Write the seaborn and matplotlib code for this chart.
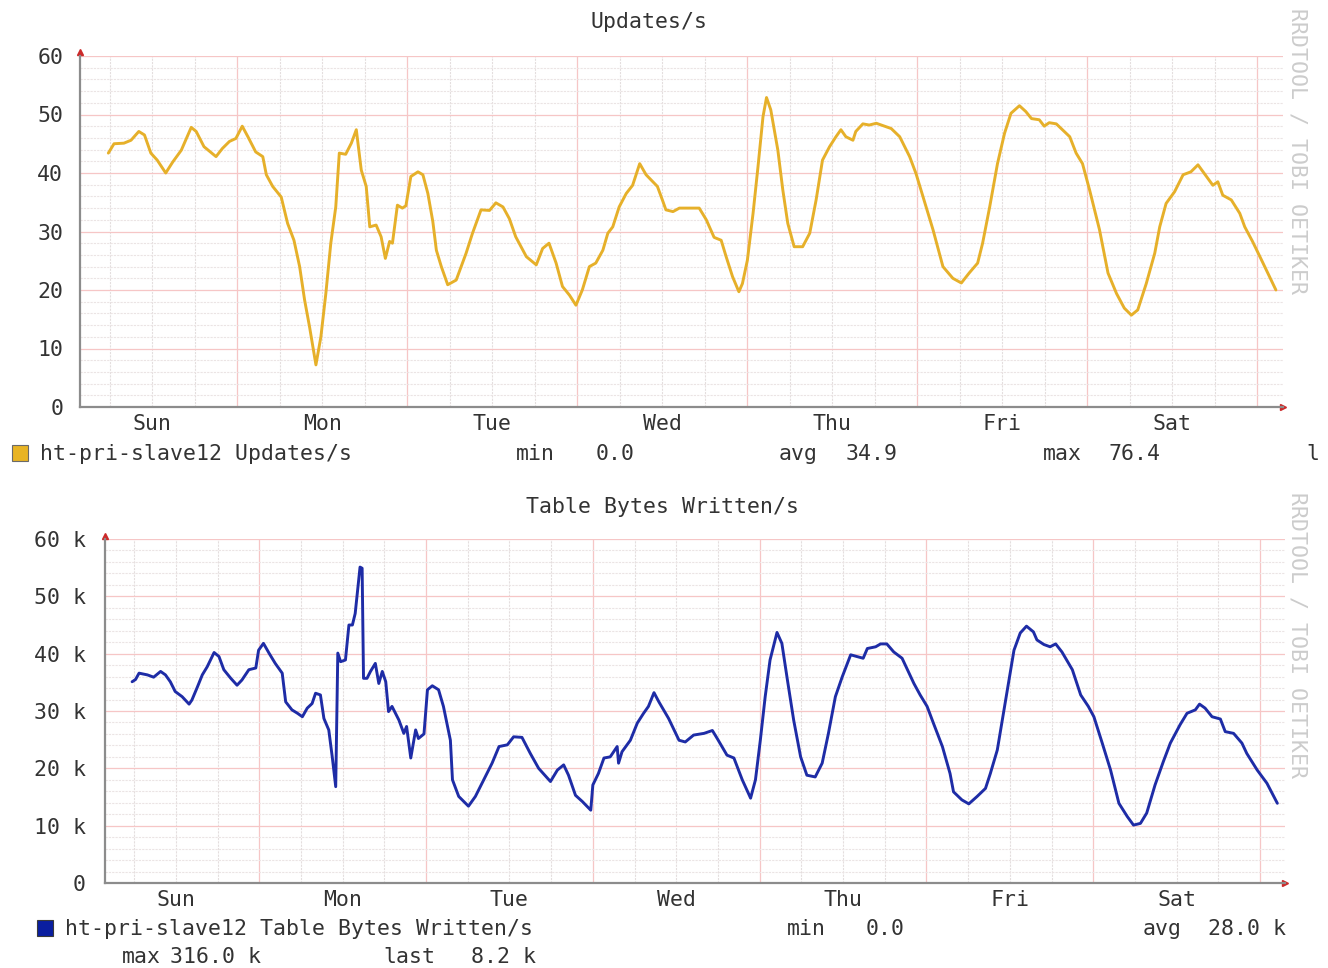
import pandas as pd
import matplotlib
matplotlib.use('Agg')
import matplotlib.pyplot as plt
import seaborn as sns
from matplotlib.patches import Rectangle

# hours since Sunday 00:00
upd_hours = [5.8, 6.6, 8.0, 9.0, 10.1, 10.9, 11.8, 12.7, 13.9, 14.9, 16.1, 17.5, 18.2, 19.3, 21.0, 21.9,
             22.9, 23.8, 24.7, 25.5, 26.6, 27.6, 28.1, 29.0, 30.2, 31.1, 32.0, 32.8, 33.5, 34.2, 35.1, 35.8,
             36.5, 37.2, 37.9, 38.4, 39.3, 40.1, 40.8, 41.5, 42.2, 42.7, 43.6, 44.3, 44.9, 45.5, 45.9, 46.6,
             47.3, 47.8, 48.5, 49.5, 50.2, 50.9, 51.6, 52.1, 52.8, 53.7, 54.9, 56.3, 57.2, 58.4, 59.6, 60.5,
             61.5, 62.4, 63.3, 64.8, 66.2, 67.1, 68.0, 69.0, 69.9, 70.9, 71.8, 72.7, 73.7, 74.6, 75.6, 76.3,
             77.0, 77.9, 78.9, 79.8, 80.8, 81.7, 83.3, 84.0, 84.5, 85.5, 86.4, 89.2, 90.2, 91.3, 92.3, 93.0,
             93.9, 94.8, 95.3, 96.0, 96.8, 97.5, 98.2, 98.7, 99.3, 100.3, 101.0, 101.7, 102.6, 103.8, 104.8,
             105.7, 106.6, 107.6, 108.5, 109.2, 109.9, 110.9, 111.3, 112.3, 113.2, 114.2, 116.3, 117.5, 118.9,
             119.8, 120.8, 122.2, 123.6, 125.0, 126.2, 127.3, 128.5, 129.2, 130.2, 131.3, 132.3, 133.2, 134.4,
             135.3, 136.1, 137.2, 137.9, 138.6, 139.6, 141.5, 142.4, 143.3, 144.3, 145.7, 146.9, 148.1, 149.2,
             150.2, 151.1, 152.3, 153.5, 154.2, 155.1, 156.3, 157.5, 158.6, 159.6, 160.5, 161.7, 162.4, 163.1,
             164.3, 165.5, 166.2, 167.3, 168.7, 170.6]
upd_vals = [43.4, 45.0, 45.1, 45.6, 47.1, 46.5, 43.4, 42.2, 40.0, 41.9, 43.9, 47.8, 47.1, 44.5, 42.8, 44.2,
            45.4, 45.9, 48.0, 46.2, 43.6, 42.8, 39.7, 37.7, 35.9, 31.4, 28.5, 24.0, 18.3, 13.7, 7.2, 12.0,
            19.4, 28.0, 34.2, 43.4, 43.2, 45.1, 47.4, 40.5, 37.7, 30.8, 31.1, 29.1, 25.4, 28.3, 28.0, 34.5,
            34.0, 34.4, 39.4, 40.2, 39.7, 36.5, 31.7, 26.8, 24.0, 20.9, 21.7, 26.3, 29.7, 33.7, 33.6, 34.9,
            34.2, 32.2, 29.1, 25.7, 24.3, 27.1, 28.0, 24.6, 20.6, 19.1, 17.4, 20.0, 24.0, 24.6, 26.8, 29.7,
            30.8, 34.2, 36.5, 37.9, 41.6, 39.7, 37.7, 35.4, 33.7, 33.4, 34.0, 34.0, 32.0, 29.0, 28.5, 25.7,
            22.3, 19.7, 21.1, 25.1, 33.1, 41.1, 49.6, 52.9, 50.8, 43.9, 37.1, 31.4, 27.4, 27.4, 29.7,
            35.4, 42.2, 44.5, 46.2, 47.4, 46.2, 45.6, 47.1, 48.4, 48.2, 48.5, 47.6, 46.2, 42.8,
            39.9, 35.9, 30.3, 24.0, 22.0, 21.2, 22.9, 24.6, 28.0, 34.2, 41.6, 46.8, 50.2, 51.5,
            50.5, 49.3, 49.1, 48.0, 48.6, 48.4, 46.2, 43.4, 41.6, 37.1, 30.3, 22.9, 19.4, 16.9,
            15.7, 16.6, 21.1, 26.3, 30.8, 34.8, 36.8, 39.7, 40.2, 41.4, 39.9, 37.9, 38.5, 36.2,
            35.4, 33.1, 30.8, 28.3, 24.8, 20.0]

tbw_hours = [5.7, 6.2, 6.7, 7.9, 8.8, 9.8, 10.5, 11.2, 11.9, 12.9, 13.9, 14.3, 15.1, 15.8, 16.5, 17.5,
             18.2, 18.9, 19.9, 20.8, 21.5, 22.5, 23.5, 23.9, 24.6, 25.4, 26.3, 27.3, 27.8, 28.7, 29.5, 30.2,
             30.9, 31.6, 32.1, 32.8, 33.3, 34.0, 34.5, 35.0, 35.3, 35.7, 36.4, 36.9, 37.4, 37.8, 38.5, 38.8,
             39.0, 39.5, 40.0, 40.7, 41.2, 41.7, 42.2, 42.6, 43.1, 44.1, 44.8, 45.2, 45.8, 46.5, 46.9, 47.7,
             48.2, 48.9, 49.8, 50.5, 51.3, 51.5, 51.8, 52.7, 54.1, 55.1, 56.3, 57.5, 58.5, 59.7, 60.6, 61.8,
             63.0, 64.2, 65.9, 66.9, 67.8, 68.5, 69.5, 70.5, 71.7, 72.0, 72.8, 73.6, 74.5, 75.5, 75.7, 76.2,
             77.4, 78.4, 79.3, 80.0, 80.8, 81.5, 82.9, 84.4, 85.3, 86.5, 88.0, 89.2, 89.9, 91.3, 92.3, 93.5,
             94.7, 95.4, 96.1, 96.8, 97.5, 98.5, 99.2, 100.0, 100.9, 101.9, 102.8, 104.0, 105.0, 105.9, 106.9,
             107.9, 109.1, 110.0, 110.9, 111.5, 112.7, 113.4, 114.3, 115.3, 116.5, 117.2, 118.2, 119.1, 120.1,
             121.0, 122.3, 123.4, 123.9, 125.1, 126.1, 127.3, 128.5, 129.2, 130.2, 131.4, 132.6, 133.5, 134.4,
             135.4, 135.9, 136.9, 137.8, 138.6, 139.5, 141.0, 142.2, 143.3, 144.1, 145.3, 146.5, 147.7, 148.9,
             149.8, 150.8, 151.7, 152.9, 154.1, 155.1, 156.5, 157.5, 158.7, 159.3, 160.1, 161.1, 162.3, 163.0,
             164.2, 165.4, 166.1, 167.6, 169.0, 170.5]
tbw_vals = [35.1, 35.5, 36.6, 36.3, 35.9, 36.9, 36.3, 35.1, 33.4, 32.5, 31.2, 31.9, 34.2, 36.3, 37.7, 40.2,
            39.5, 37.2, 35.7, 34.5, 35.4, 37.2, 37.5, 40.6, 41.8, 40.1, 38.3, 36.6, 31.6, 30.2, 29.6, 29.0,
            30.5, 31.3, 33.1, 32.8, 28.7, 26.7, 22.0, 16.8, 40.1, 38.6, 38.9, 45.0, 45.0, 47.0, 55.1, 54.9,
            35.7, 35.7, 36.9, 38.3, 34.8, 36.9, 35.1, 29.9, 30.8, 28.4, 26.1, 27.3, 21.8, 26.7, 25.2, 26.0,
            33.7, 34.4, 33.7, 30.8, 26.1, 24.9, 18.0, 15.1, 13.4, 15.1, 18.0, 20.9, 23.8, 24.1, 25.5, 25.4,
            22.6, 20.0, 17.7, 19.7, 20.6, 18.8, 15.3, 14.2, 12.7, 17.1, 19.1, 21.8, 22.0, 23.8, 20.9, 22.9,
            24.9, 27.9, 29.6, 30.8, 33.2, 31.6, 28.7, 24.9, 24.6, 25.8, 26.1, 26.6, 25.2, 22.3, 21.8, 18.0,
            14.8, 18.0, 24.9, 32.5, 38.9, 43.7, 41.8, 35.4, 28.4, 22.0, 18.8, 18.5, 20.9, 26.1, 32.5,
            36.0, 39.8, 39.5, 39.2, 40.9, 41.2, 41.7, 41.7, 40.3, 39.2, 37.4, 34.8, 32.8, 30.8,
            27.9, 23.8, 19.1, 15.9, 14.5, 13.8, 15.1, 16.5, 19.1, 23.2, 31.9, 40.6, 43.6, 44.8,
            43.8, 42.4, 41.6, 41.2, 41.7, 40.3, 37.2, 32.8, 30.8, 29.0, 24.4, 19.7, 13.9, 11.6,
            10.1, 10.4, 12.2, 17.1, 21.2, 24.4, 27.6, 29.6, 30.2, 31.2, 30.5, 29.0, 28.6, 26.4,
            26.1, 24.4, 22.6, 19.7, 17.4, 13.9]

day_names = ['Sun', 'Mon', 'Tue', 'Wed', 'Thu', 'Fri', 'Sat']
day_centers = [12, 36, 60, 84, 108, 132, 156]
yticks = [0, 10, 20, 30, 40, 50, 60]
upd_ylabels = ['0', '10', '20', '30', '40', '50', '60']
tbw_ylabels = ['0', '10 k', '20 k', '30 k', '40 k', '50 k', '60 k']

W, H = 1328, 968
TXT = '#333333'
FS = 15.5

sns.set_style('white')
plt.rcParams['font.family'] = ['DejaVu Sans Mono', 'DejaVu Sans']

fig = plt.figure(figsize=(W / 100, H / 100), dpi=100)
ax1 = fig.add_axes([80 / W, 1 - 407 / H, 1203 / W, 351 / H])
ax2 = fig.add_axes([105 / W, 1 - 883 / H, 1180 / W, 344 / H])


def rrd_axes(ax, ylabels, ypad):
    ax.set_xlim(1.8, 171.6)
    ax.set_ylim(0, 60)
    # rrdtool style grid: minor every 6h / 2 units, major at midnight / 10 units
    for h in range(6, 172, 6):
        if h % 24 == 0:
            ax.axvline(h, color='#f6c6c6', lw=0.9, zorder=0)
        else:
            ax.axvline(h, color='#e4dede', lw=0.8, ls=(0, (2, 1)), zorder=0)
    for v in range(2, 61, 2):
        if v % 10 == 0:
            ax.axhline(v, color='#f6c6c6', lw=0.9, zorder=0)
        else:
            ax.axhline(v, color='#ebe4e4', lw=0.8, ls=(0, (2, 1)), zorder=0)
    ax.set_xticks(day_centers)
    ax.set_xticklabels(day_names)
    ax.set_yticks(yticks)
    ax.set_yticklabels(ylabels)
    ax.tick_params(axis='x', length=0, pad=5, labelsize=FS, labelcolor=TXT)
    ax.tick_params(axis='y', length=0, pad=ypad, labelsize=FS, labelcolor=TXT)
    for s in ['top', 'right']:
        ax.spines[s].set_visible(False)
    for s in ['left', 'bottom']:
        ax.spines[s].set_color('#8c8c8c')
        ax.spines[s].set_linewidth(1.6)
    ax.set_xlabel('')
    ax.set_ylabel('')
    ax.plot(1.0, 0, marker='>', color='#cc2a2a', ms=5, transform=ax.transAxes, clip_on=False)
    ax.plot(0, 1.01, marker='^', color='#cc2a2a', ms=5, transform=ax.transAxes, clip_on=False)


df_upd = pd.DataFrame({'hours': upd_hours, 'value': upd_vals})
df_tbw = pd.DataFrame({'hours': tbw_hours, 'value': tbw_vals})

sns.lineplot(data=df_upd, x='hours', y='value', ax=ax1, color='#e6b02a', lw=2.1, estimator=None)
sns.lineplot(data=df_tbw, x='hours', y='value', ax=ax2, color='#1e2ca6', lw=2.1, estimator=None)
rrd_axes(ax1, upd_ylabels, 12)
rrd_axes(ax2, tbw_ylabels, 14)


def ftext(x, y, s, **kw):
    kw.setdefault('color', TXT)
    kw.setdefault('fontsize', FS)
    kw.setdefault('va', 'center')
    fig.text(x / W, 1 - y / H, s, **kw)


# titles
ftext(649, 22, 'Updates/s', ha='center')
ftext(663, 507, 'Table Bytes Written/s', ha='center')

# legend rows
fig.add_artist(Rectangle((12 / W, 1 - 461 / H), 16 / W, 16 / H, transform=fig.transFigure,
                         facecolor='#e8b424', edgecolor='#6a6a6a', lw=0.8))
ftext(40, 454, 'ht-pri-slave12 Updates/s')
ftext(516, 454, 'min')
ftext(596, 454, '0.0')
ftext(779, 454, 'avg')
ftext(846, 454, '34.9')
ftext(1043, 454, 'max')
ftext(1109, 454, '76.4')
ftext(1306, 454, 'l')

fig.add_artist(Rectangle((37 / W, 1 - 936 / H), 16 / W, 16 / H, transform=fig.transFigure,
                         facecolor='#0a1ea0', edgecolor='#3a3a3a', lw=0.8))
ftext(65, 929, 'ht-pri-slave12 Table Bytes Written/s')
ftext(787, 929, 'min')
ftext(866, 929, '0.0')
ftext(1143, 929, 'avg')
ftext(1208, 929, '28.0 k')
ftext(122, 957, 'max')
ftext(170, 957, '316.0 k')
ftext(383, 957, 'last')
ftext(471, 957, '8.2 k')

# watermark
ftext(1298, 8, 'RRDTOOL / TOBI OETIKER', ha='center', va='top', rotation=270, color='#cccccc')
ftext(1298, 492, 'RRDTOOL / TOBI OETIKER', ha='center', va='top', rotation=270, color='#cccccc')

fig.savefig('out.png', dpi=100, facecolor='white')
